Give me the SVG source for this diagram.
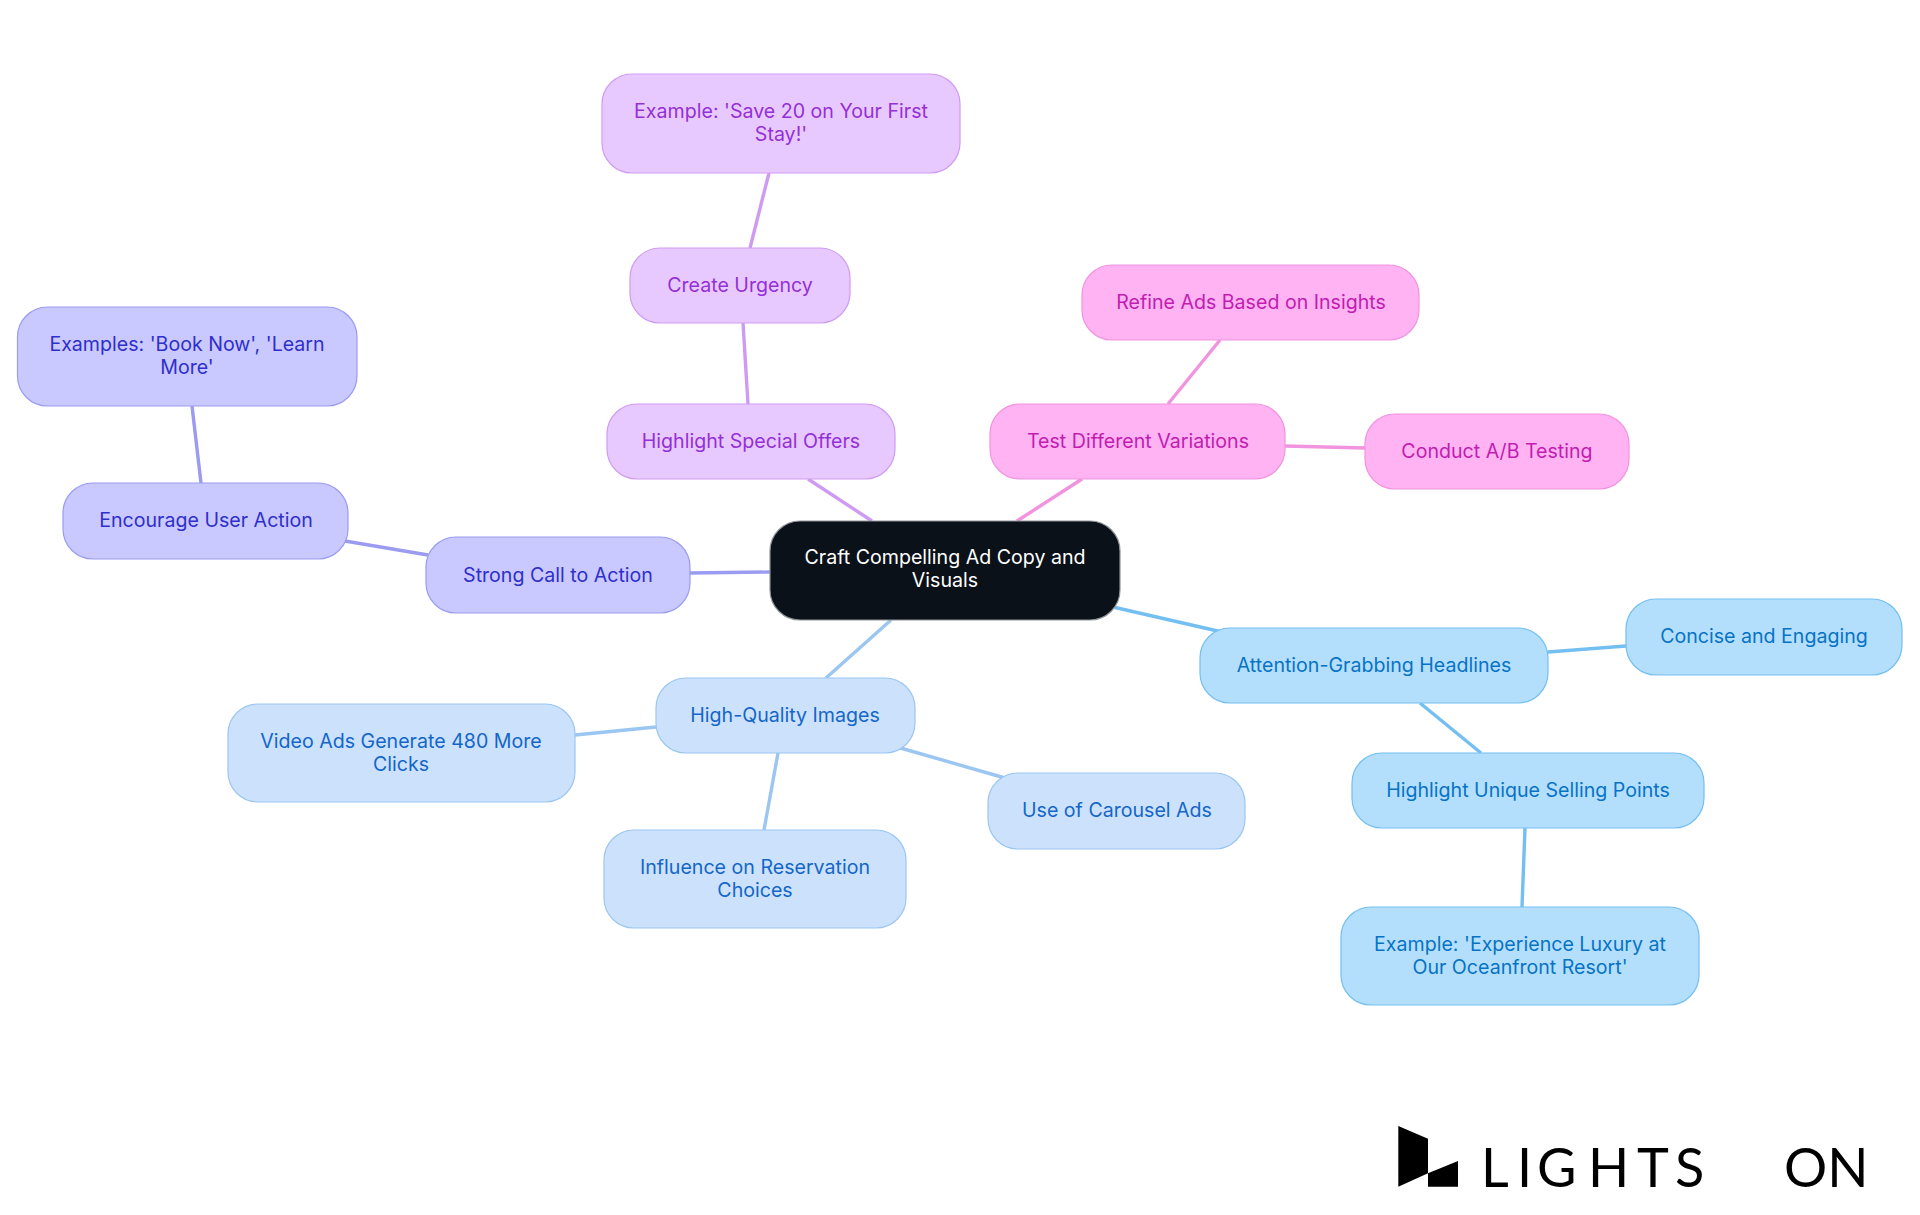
<svg xmlns="http://www.w3.org/2000/svg" width="1920" height="1215" viewBox="0 0 1920 1215">
<style>
text{font-family:"Inter","Noto Sans",sans-serif;font-size:19.6px;text-anchor:middle}
.n{stroke-width:1.2}
.c line{stroke-width:3.4;fill:none}
.r{fill:#0b1119;stroke:#8f9397}.rt{fill:#fff}
.a{fill:#c9c9ff;stroke:#9b9bf2}.at{fill:#2f2fcb}
.b{fill:#e8c9ff;stroke:#cf9bf2}.bt{fill:#9330d6}
.d{fill:#ffb3f2;stroke:#f293e0}.dt{fill:#c21cb0}
.e{fill:#cce2fc;stroke:#9bc6f2}.et{fill:#1466c8}
.f{fill:#b3dffd;stroke:#74bff2}.ft{fill:#0873c4}
</style>
<rect width="1920" height="1215" fill="#fff"/>
<g id="connectors" class="c">
<line x1="690" y1="573" x2="770" y2="572" stroke="#9b9bf2"/>
<line x1="345" y1="541" x2="428" y2="555" stroke="#9b9bf2"/>
<line x1="192" y1="406" x2="201" y2="483" stroke="#9b9bf2"/>
<line x1="808" y1="479" x2="872" y2="521" stroke="#cf9bf2"/>
<line x1="743" y1="323" x2="748" y2="404" stroke="#cf9bf2"/>
<line x1="769" y1="173" x2="750" y2="248" stroke="#cf9bf2"/>
<line x1="1082" y1="479" x2="1017" y2="521" stroke="#f293e0"/>
<line x1="1220" y1="340" x2="1168" y2="404" stroke="#f293e0"/>
<line x1="1285" y1="446" x2="1365" y2="448" stroke="#f293e0"/>
<line x1="1113" y1="607" x2="1222" y2="632" stroke="#74bff2"/>
<line x1="1548" y1="652" x2="1626" y2="646" stroke="#74bff2"/>
<line x1="1420" y1="703" x2="1481" y2="753" stroke="#74bff2"/>
<line x1="1525" y1="828" x2="1522" y2="907" stroke="#74bff2"/>
<line x1="891" y1="620" x2="826" y2="678" stroke="#9bc6f2"/>
<line x1="656" y1="727" x2="575" y2="735" stroke="#9bc6f2"/>
<line x1="778" y1="753" x2="764" y2="830" stroke="#9bc6f2"/>
<line x1="897" y1="747" x2="1005" y2="778" stroke="#9bc6f2"/>
</g>
<g id="n0"><rect class="n r" x="770" y="521" width="350" height="99" rx="30"/><text class="rt" x="945" y="564">Craft Compelling Ad Copy and<tspan x="945" dy="23">Visuals</tspan></text></g>
<g id="n1"><rect class="n a" x="426" y="537" width="264" height="76" rx="30"/><text class="at" x="558" y="582">Strong Call to Action</text></g>
<g id="n2"><rect class="n a" x="63" y="483" width="285" height="76" rx="30"/><text class="at" x="206" y="527">Encourage User Action</text></g>
<g id="n3"><rect class="n a" x="17.500" y="307" width="339.500" height="99" rx="30"/><text class="at" x="187" y="351">Examples: 'Book Now', 'Learn<tspan x="187" dy="23">More'</tspan></text></g>
<g id="n4"><rect class="n b" x="607" y="404" width="288" height="75" rx="30"/><text class="bt" x="751" y="448">Highlight Special Offers</text></g>
<g id="n5"><rect class="n b" x="630" y="248" width="220" height="75" rx="30"/><text class="bt" x="740" y="292">Create Urgency</text></g>
<g id="n6"><rect class="n b" x="602" y="74" width="358" height="99" rx="30"/><text class="bt" x="781" y="118">Example: 'Save 20 on Your First<tspan x="781" dy="23">Stay!'</tspan></text></g>
<g id="n7"><rect class="n d" x="990" y="404" width="295" height="75" rx="30"/><text class="dt" x="1138" y="448">Test Different Variations</text></g>
<g id="n8"><rect class="n d" x="1082" y="265" width="337" height="75" rx="30"/><text class="dt" x="1251" y="309">Refine Ads Based on Insights</text></g>
<g id="n9"><rect class="n d" x="1365" y="414" width="264" height="75" rx="30"/><text class="dt" x="1497" y="458">Conduct A/B Testing</text></g>
<g id="n10"><rect class="n f" x="1200" y="628" width="348" height="75" rx="30"/><text class="ft" x="1374" y="672">Attention-Grabbing Headlines</text></g>
<g id="n11"><rect class="n f" x="1626" y="599" width="276" height="76" rx="30"/><text class="ft" x="1764" y="643">Concise and Engaging</text></g>
<g id="n12"><rect class="n f" x="1352" y="753" width="352" height="75" rx="30"/><text class="ft" x="1528" y="797">Highlight Unique Selling Points</text></g>
<g id="n13"><rect class="n f" x="1341" y="907" width="358" height="98" rx="30"/><text class="ft" x="1520" y="951">Example: 'Experience Luxury at<tspan x="1520" dy="23">Our Oceanfront Resort'</tspan></text></g>
<g id="n14"><rect class="n e" x="656" y="678" width="259" height="75" rx="30"/><text class="et" x="785" y="722">High-Quality Images</text></g>
<g id="n15"><rect class="n e" x="228" y="704" width="347" height="98" rx="30"/><text class="et" x="401" y="748">Video Ads Generate 480 More<tspan x="401" dy="23">Clicks</tspan></text></g>
<g id="n16"><rect class="n e" x="604" y="830" width="302" height="98" rx="30"/><text class="et" x="755" y="874">Influence on Reservation<tspan x="755" dy="23">Choices</tspan></text></g>
<g id="n17"><rect class="n e" x="988" y="773" width="257" height="76" rx="30"/><text class="et" x="1117" y="817">Use of Carousel Ads</text></g>
<g id="logo"><polygon points="1398.300,1126 1428,1138.700 1428,1173.300 1398.300,1186.700" fill="#000"/><polygon points="1428,1173.300 1458,1161 1458,1186.700 1428,1186.700" fill="#000"/>
<text x="1481 1517 1537 1588 1637 1675 1730 1784" y="1186.500" style="font-family:Lato,sans-serif;font-size:54px;text-anchor:start;fill:#000">LIGHTS ON</text></g>
</svg>
